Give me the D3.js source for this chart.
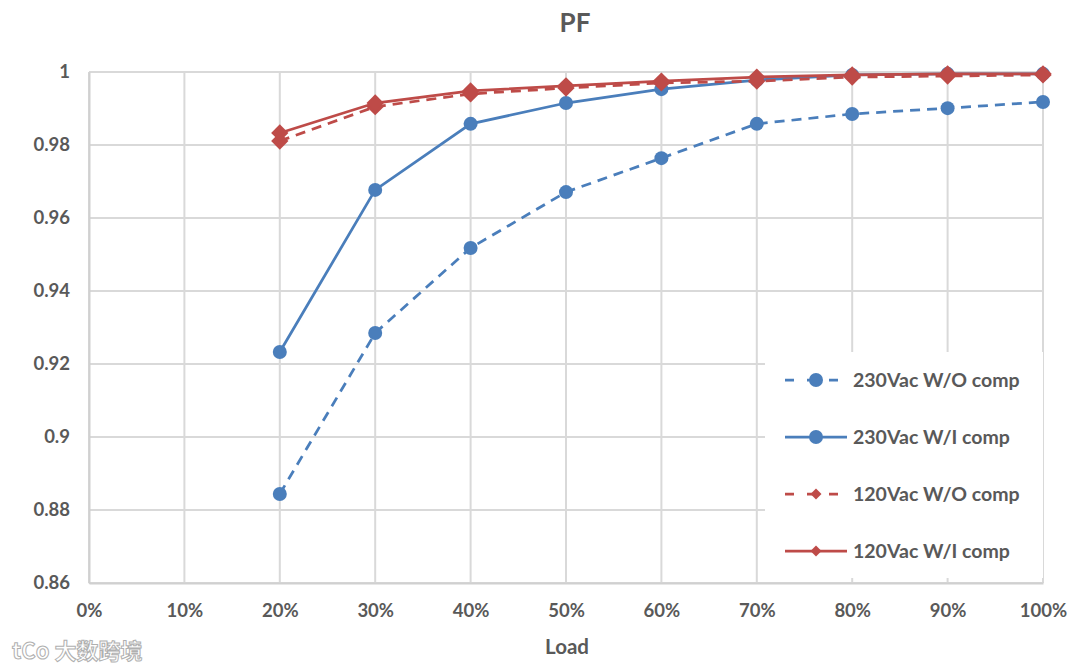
<!DOCTYPE html>
<html><head><meta charset="utf-8">
<script src="https://cdn.jsdelivr.net/npm/d3@7"></script>
<style>
html,body{margin:0;padding:0;background:#fff;}
svg text{font-family:Lato,"Open Sans",sans-serif;font-weight:bold;fill:#595959;}
</style></head>
<body><svg id="c" width="1080" height="669"></svg>
<script>
const loads = [0.2,0.3,0.4,0.5,0.6,0.7,0.8,0.9,1.0];
const xTicks = [0,0.1,0.2,0.3,0.4,0.5,0.6,0.7,0.8,0.9,1.0];
const yTicks = [0.86,0.88,0.9,0.92,0.94,0.96,0.98,1];
const s230WO = [0.8844,0.9285,0.9518,0.9671,0.9764,0.9858,0.9885,0.9901,0.9918];
const s230WI = [0.9233,0.9677,0.9858,0.9915,0.9953,0.9978,0.9992,0.9995,0.9995];
const s120WO = [0.9811,0.9905,0.9940,0.9956,0.9970,0.9975,0.9986,0.9989,0.9992];
const s120WI = [0.9833,0.9915,0.9948,0.9962,0.9975,0.9986,0.9992,0.9995,0.9995];
const seriesNames = ["230Vac W/O comp","230Vac W/I comp","120Vac W/O comp","120Vac W/I comp"];

const blue = "#4A7EBB", red = "#BE4B48";
const series = [
  {name:seriesNames[0], vals:s230WO, color:blue, dash:"10,7", marker:"circle"},
  {name:seriesNames[1], vals:s230WI, color:blue, dash:null, marker:"circle"},
  {name:seriesNames[2], vals:s120WO, color:red, dash:"10,7", marker:"diamond"},
  {name:seriesNames[3], vals:s120WI, color:red, dash:null, marker:"diamond"}
];

const svg = d3.select("#c");
const L=89, R=1043, T=72, B=583;
const x = d3.scaleLinear().domain([0,1]).range([L,R]);
const y = d3.scaleLinear().domain([0.86,1]).range([B,T]);

// gridlines
const g = svg.append("g");
g.selectAll("line.v").data(xTicks).join("line")
  .attr("x1",d=>x(d)).attr("x2",d=>x(d)).attr("y1",T).attr("y2",B)
  .attr("stroke","#d9d9d9").attr("stroke-width",2);
g.selectAll("line.h").data(yTicks).join("line")
  .attr("x1",L).attr("x2",R).attr("y1",d=>y(d)).attr("y2",d=>y(d))
  .attr("stroke","#d9d9d9").attr("stroke-width",2);

// axes
const xAxis = d3.axisBottom(x).tickValues(xTicks).tickFormat(d3.format(".0%")).tickSize(0).tickPadding(21);
const yAxis = d3.axisLeft(y).tickValues(yTicks).tickFormat(d=>String(+d.toFixed(2))).tickSize(0).tickPadding(19);
svg.append("g").attr("transform",`translate(0,${B})`).call(xAxis)
  .call(a=>a.select(".domain").attr("stroke","#d0d0d0").attr("stroke-width",2))
  .selectAll("text").style("font-size","18.5px");
svg.append("g").attr("transform",`translate(${L},0)`).call(yAxis)
  .call(a=>a.select(".domain").attr("stroke","#d0d0d0").attr("stroke-width",2))
  .selectAll("text").style("font-size","18.5px");

// lines
const line = d3.line().x(d=>x(d[0])).y(d=>y(d[1]));
const diamond = d3.symbol().type(d3.symbolSquare).size(150);
series.forEach(s=>{
  const pts = loads.map((l,i)=>[l,s.vals[i]]);
  svg.append("path").datum(pts).attr("d",line).attr("fill","none")
    .attr("stroke",s.color).attr("stroke-width",2.75)
    .attr("stroke-dasharray",s.dash);
  if(s.marker==="circle"){
    svg.append("g").selectAll("circle").data(pts).join("circle")
      .attr("cx",d=>x(d[0])).attr("cy",d=>y(d[1])).attr("r",7).attr("fill",s.color);
  } else {
    svg.append("g").selectAll("path").data(pts).join("path")
      .attr("d",diamond).attr("transform",d=>`translate(${x(d[0])},${y(d[1])}) rotate(45)`)
      .attr("fill",s.color);
  }
});

// legend
const lg = svg.append("g");
lg.append("rect").attr("x",765).attr("y",352).attr("width",278).attr("height",226).attr("fill","#fff");
const ly = [380,437,494,551];
series.forEach((s,i)=>{
  const gy = ly[i];
  lg.append("line").attr("x1",785).attr("x2",847).attr("y1",gy).attr("y2",gy)
    .attr("stroke",s.color).attr("stroke-width",2.75).attr("stroke-dasharray",s.dash?"9,13":null);
  if(s.marker==="circle") lg.append("circle").attr("cx",816).attr("cy",gy).attr("r",7).attr("fill",s.color);
  else lg.append("path").attr("d",d3.symbol().type(d3.symbolSquare).size(60)).attr("transform",`translate(816,${gy}) rotate(45)`).attr("fill",s.color);
  lg.append("text").attr("x",853).attr("y",gy).attr("dy","0.35em").style("font-size","19.5px").text(s.name);
});

// title and axis title
svg.append("text").attr("x",575).attr("y",32).attr("text-anchor","middle").style("font-size","26px").text("PF");
svg.append("text").attr("x",567).attr("y",654).attr("text-anchor","middle").style("font-size","20.5px").text("Load");

// watermark
svg.append("text").attr("x",12).attr("y",659).style("font-size","22px")
  .style("font-family","'Noto Sans CJK SC'").style("fill","#fff").attr("stroke","#b0b0b0").attr("stroke-width",1)
  .text("tCo 大数跨境");
</script></body></html>
